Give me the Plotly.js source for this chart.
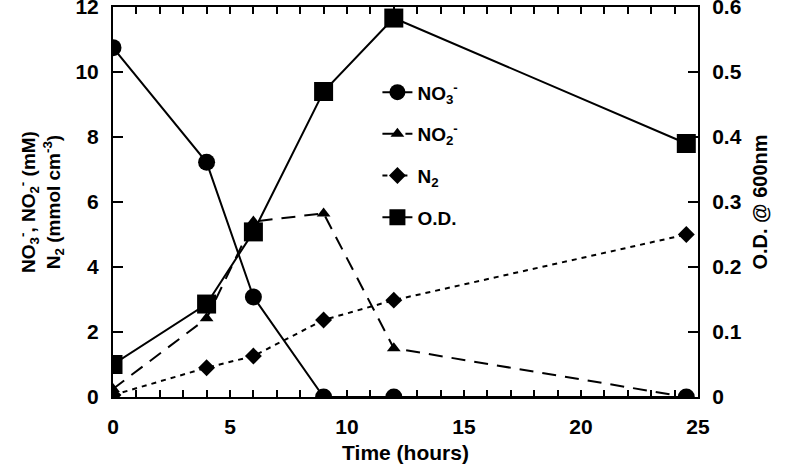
<!DOCTYPE html>
<html><head><meta charset="utf-8">
<script src="https://cdn.plot.ly/plotly-3.0.1.min.js"></script>
<style>body{margin:0;background:#fff}#c{width:793px;height:471px}</style>
</head><body><div id="c"></div>
<script>
const timeHours = [0, 4, 6, 9, 12, 24.5];
const no3 = [10.75, 7.22, 3.08, 0, 0, 0];
const no2 = [0.25, 2.42, 5.4, 5.65, 1.5, 0];
const n2 = [0.06, 0.9, 1.26, 2.37, 2.98, 5.0];
const od = [0.05, 0.143, 0.254, 0.47, 0.583, 0.39];
const xTickStep = 5, xMinorStep = 1, yTickStep = 2, y2TickStep = 0.1;

const F = 'Liberation Sans, Arial, sans-serif';
const TF = {family: F, size: 21, color: 'black', weight: 'bold'};
const traces = [
  {x: timeHours, y: no3, name: 'NO<sub>3</sub><sup>-</sup>', legendgroup: 'a', mode: 'lines+markers',
   line: {color: 'black', width: 2}, marker: {symbol: 'circle', size: 17, color: 'black'}},
  {x: timeHours, y: no2, name: 'NO<sub>2</sub><sup>-</sup>', legendgroup: 'b', mode: 'lines+markers',
   line: {color: 'black', width: 2, dash: '14px,9px'}, marker: {symbol: 'triangle-up', size: 12, color: 'black'}},
  {x: timeHours, y: n2, name: 'N<sub>2</sub>', legendgroup: 'c', mode: 'lines+markers',
   line: {color: 'black', width: 2, dash: '5px,5px'}, marker: {symbol: 'diamond', size: 13, color: 'black'}},
  {x: timeHours, y: od, name: 'O.D.', legendgroup: 'd', mode: 'lines+markers', yaxis: 'y2',
   line: {color: 'black', width: 2}, marker: {symbol: 'square', size: 19, color: 'black'}}
];
const layout = {
  width: 793, height: 471,
  margin: {l: 113, r: 95, t: 7, b: 74},
  paper_bgcolor: 'white', plot_bgcolor: 'rgba(0,0,0,0)',
  font: {family: F, color: 'black', size: 19, weight: 'bold'},
  showlegend: true,
  legend: {x: 0.452, y: 0.83, xanchor: 'left', yanchor: 'top', bgcolor: 'rgba(0,0,0,0)',
           font: {family: F, size: 19, color: 'black', weight: 'bold'}, tracegroupgap: 14},
  xaxis: {range: [0, 25], tick0: 0, dtick: xTickStep,
          showline: true, linecolor: 'black', linewidth: 2, mirror: 'allticks',
          ticks: 'inside', ticklen: 7, tickwidth: 2, tickcolor: 'black', showgrid: false, zeroline: false,
          minor: {tick0: 0, dtick: xMinorStep, ticks: 'inside', ticklen: 7, tickwidth: 2, tickcolor: 'black', showgrid: false},
          ticklabelstandoff: 10, tickfont: TF,
          title: {text: 'Time (hours)', font: {family: F, size: 21, color: 'black', weight: 'bold'}, standoff: 8}},
  yaxis: {range: [0, 12], tick0: 0, dtick: yTickStep, showline: true, linecolor: 'black', linewidth: 2,
          ticks: 'inside', ticklen: 10, tickwidth: 2, tickcolor: 'black', showgrid: false, zeroline: false,
          tickfont: TF, ticklabeloverflow: 'allow', ticklabelstandoff: 8,
          title: {text: 'NO<sub>3</sub><sup>-</sup>, NO<sub>2</sub><sup>-</sup> (mM)<br>N<sub>2</sub> (mmol cm<sup>-3</sup>)',
                  font: {family: F, size: 19, color: 'black', weight: 'bold'}, standoff: 10}},
  yaxis2: {range: [0, 0.6], tick0: 0, dtick: y2TickStep,
           overlaying: 'y', side: 'right', showline: true, linecolor: 'black', linewidth: 2,
           ticks: 'inside', ticklen: 10, tickwidth: 2, tickcolor: 'black', showgrid: false, zeroline: false,
           tickfont: TF, ticklabeloverflow: 'allow', ticklabelstandoff: 8,
           title: {text: 'O.D. @ 600nm', font: {family: F, size: 20, color: 'black', weight: 'bold'}, standoff: 12}}
};
Plotly.newPlot('c', traces, layout, {displayModeBar: false});
</script></body></html>
